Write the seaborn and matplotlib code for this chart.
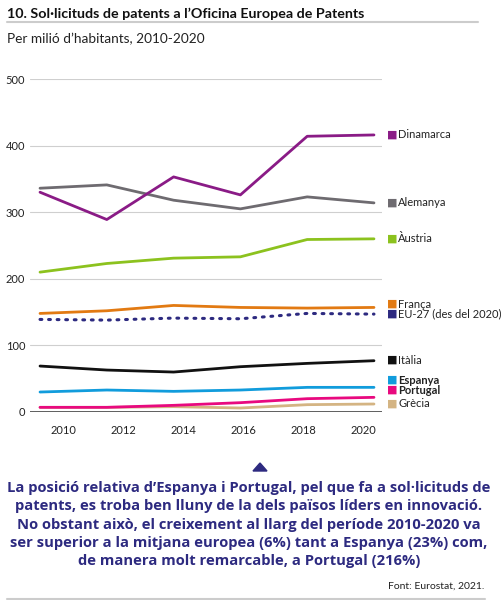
import matplotlib
matplotlib.use('Agg')
import matplotlib.pyplot as plt
from matplotlib.lines import Line2D
from matplotlib.patches import Polygon
import numpy as np
import pandas as pd
import seaborn as sns

# Data (per million inhabitants)
years = [2010, 2012, 2014, 2016, 2018, 2020]
countries = ['Dinamarca', 'Alemanya', 'Àustria', 'França', 'EU-27 (des del 2020)',
             'Itàlia', 'Espanya', 'Portugal', 'Grècia']
dinamarca = [330, 289, 353, 326, 414, 416]
alemanya = [336, 341, 318, 305, 323, 314]
austria = [210, 223, 231, 233, 259, 260]
franca = [148, 152, 160, 157, 156, 157]
eu27 = [139, 138, 141, 140, 148, 147]
italia = [69, 63, 60, 68, 73, 77]
espanya = [30, 33, 31, 33, 37, 37]
portugal = [7, 7, 10, 14, 20, 22]
grecia = [7, 7, 8, 6, 11, 12]
series = [dinamarca, alemanya, austria, franca, eu27, italia, espanya, portugal, grecia]

colors = ['#8a1b86', '#6e6b70', '#8cc21e', '#e27a12', '#2d2a80',
          '#111111', '#119cdc', '#e8097f', '#d4b483']
label_y = [416, 314, 260, 162, 147, 78, 48, 33, 13]
bold_labels = ['Espanya', 'Portugal']
tick_years = [2010, 2012, 2014, 2016, 2018, 2020]

annotation = [
    'La posició relativa d’Espanya i Portugal, pel que fa a sol·licituds de',
    'patents, es troba ben lluny de la dels països líders en innovació.',
    'No obstant això, el creixement al llarg del període 2010-2020 va',
    'ser superior a la mitjana europea (6%) tant a Espanya (23%) com,',
    'de manera molt remarcable, a Portugal (216%)',
]

rows = []
for c, vals in zip(countries, series):
    for y, v in zip(years, vals):
        rows.append({'country': c, 'year': y, 'value': v})
df = pd.DataFrame(rows)

sns.set_theme(style='white')
plt.rcParams['font.family'] = ['Lato', 'DejaVu Sans']

W, H = 503, 600
fig = plt.figure(figsize=(W / 100, H / 100), dpi=100)
ax = fig.add_axes([30 / W, 1 - 412 / H, 352 / W, 333 / H])

# draw bottom series first so Portugal sits over Grècia
for c, col in reversed(list(zip(countries, colors))):
    sub = df[df['country'] == c]
    if c.startswith('EU-27'):
        sns.lineplot(data=sub, x='year', y='value', color=col, ax=ax, lw=2.2,
                     linestyle=(0, (0.6, 2.2)), dash_capstyle='round', clip_on=False)
    else:
        sns.lineplot(data=sub, x='year', y='value', color=col, ax=ax, lw=2.0,
                     clip_on=False)

ax.set_xlim(2009.70, 2020.24)
ax.set_ylim(0, 500)
ax.set_yticks([0, 100, 200, 300, 400, 500])
ax.set_xticks(np.linspace(2010.69, 2019.67, len(tick_years)))
ax.set_xticklabels([str(t) for t in tick_years])
ax.tick_params(axis='y', length=0, pad=3.5, labelsize=8, labelcolor='#222222')
ax.tick_params(axis='x', length=0, pad=9, labelsize=8, labelcolor='#222222')
ax.set_xlabel('')
ax.set_ylabel('')
for s in ax.spines.values():
    s.set_visible(False)
ax.yaxis.grid(True, color='#cfcfcf', lw=0.8)
ax.xaxis.grid(False)
ax.axhline(0, color='#444444', lw=1.2, zorder=1)

# direct labels
for c, col, ly in zip(countries, colors, label_y):
    ax.text(1.013, ly, '■', transform=ax.get_yaxis_transform(), color=col,
            fontsize=8, va='center', ha='left', family=['DejaVu Sans'])
    ax.text(1.046, ly, c, transform=ax.get_yaxis_transform(), color='#222222',
            fontsize=8, va='center', ha='left',
            fontweight='bold' if c in bold_labels else 'normal')

# titles
fig.text(7 / W, 1 - 17.5 / H, '10. Sol·licituds de patents a l’Oficina Europea de Patents',
         fontsize=10.3, fontweight='bold', color='#111111', va='baseline')
fig.add_artist(Line2D([7 / W, 478 / W], [1 - 22 / H] * 2, color='#cccccc', lw=1.5))
fig.text(7 / W, 1 - 43 / H, 'Per milió d’habitants, 2010-2020',
         fontsize=9.8, color='#222222', va='baseline')

# annotation
tri = Polygon([[253 / W, 1 - 471 / H], [267 / W, 1 - 471 / H], [260 / W, 1 - 463 / H]],
              closed=True, transform=fig.transFigure, color='#2d2a80')
fig.add_artist(tri)
for i, line in enumerate(annotation):
    fig.text(249 / W, 1 - (492 + 18.3 * i) / H, line, fontsize=10.6,
             fontweight='bold', color='#2d2a80', ha='center', va='baseline',
             family=['Open Sans', 'DejaVu Sans'])

fig.text(484 / W, 1 - 589 / H, 'Font: Eurostat, 2021.', fontsize=7.5,
         color='#222222', ha='right', va='baseline')
fig.add_artist(Line2D([7 / W, 485 / W], [1 - 599 / H] * 2, color='#cccccc', lw=1.5))

fig.savefig('out.png', dpi=100)
